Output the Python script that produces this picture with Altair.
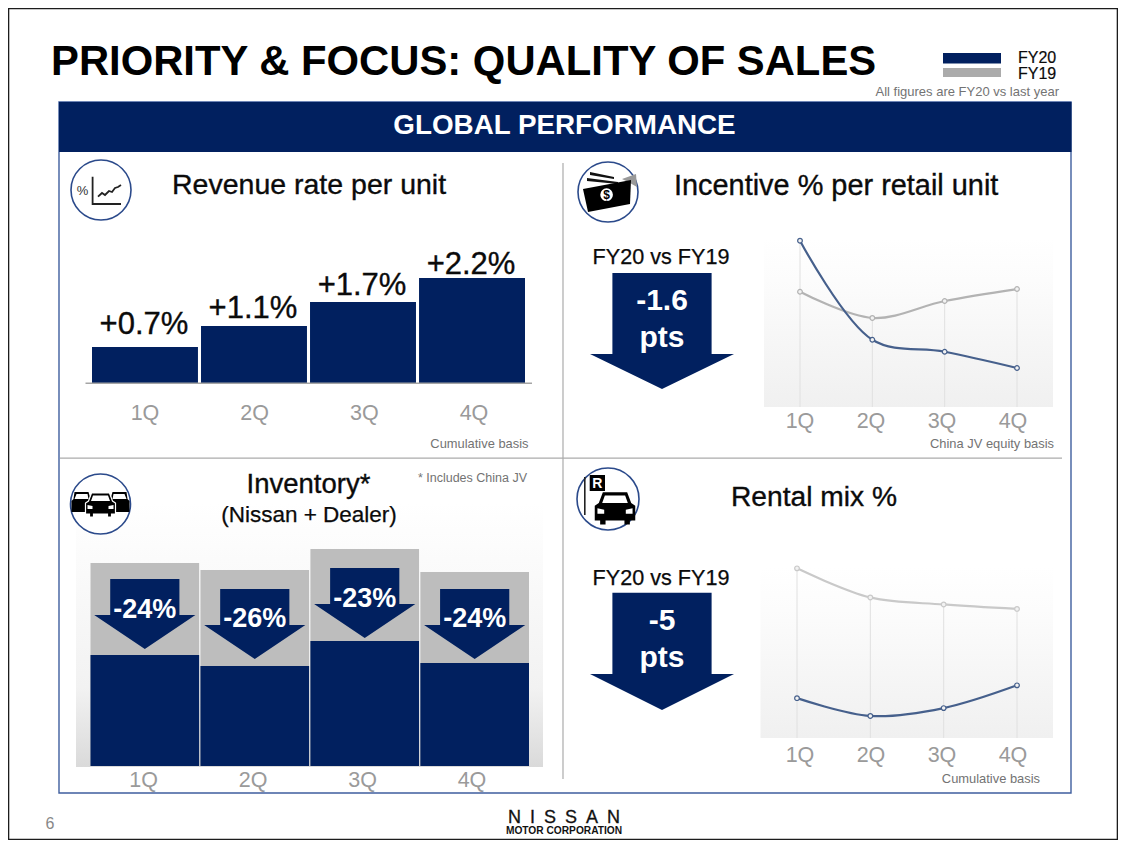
import altair as alt
import pandas as pd

QUARTERS = ["1Q", "2Q", "3Q", "4Q"]
NAVY = "#01205F"
GRAY = "#9A9A9A"
NOTE = "#737373"
INK = "#0B0B0B"
FONT = "Liberation Sans"

# Revenue rate per unit
rev_bars = [0.75, 1.19, 1.69, 2.19]
rev_label_pos = [1.02, 1.35, 1.83, 2.27]
rev_labels = ["+0.7%", "+1.1%", "+1.7%", "+2.2%"]

# Incentive % per retail unit (index)
inc_fy20 = [98.4, 39.8, 32.7, 23.1]
inc_fy19 = [68.2, 52.7, 62.7, 69.8]

# Rental mix % (index)
ren_fy20 = [23.3, 12.9, 17.5, 30.8]
ren_fy19 = [99.2, 82.2, 78.1, 75.5]

# Inventory (index)
inv_fy19 = [203, 196, 217, 194]
inv_fy20 = [111, 100, 125, 103]
inv_arrow_pos = [187, 177, 198, 177]
inv_label_pos = [148, 139, 159, 139]
inv_labels = ["-24%", "-26%", "-23%", "-24%"]


def px(v):
    return v - 8


layers = []


def text(s, x, y, size, color=INK, weight="normal", align="left", font=FONT, halo=0):
    kw = {"stroke": color, "strokeWidth": halo} if halo else {}
    layers.append(
        alt.Chart(pd.DataFrame({"t": [s]}))
        .mark_text(font=font, fontSize=size, color=color, fontWeight=weight, align=align, baseline="alphabetic", **kw)
        .encode(x=alt.value(px(x)), y=alt.value(px(y)), text="t:N")
    )


def box(x0, x1, y0, y1, fill=None, stroke=None, sw=1.0):
    kw = {}
    if fill is not None:
        kw["fill"] = fill
    else:
        kw["fillOpacity"] = 0
    if stroke is not None:
        kw["stroke"] = stroke
        kw["strokeWidth"] = sw
    layers.append(
        alt.Chart(pd.DataFrame({"a": [0]}))
        .mark_rect(**kw)
        .encode(x=alt.value(px(x0)), x2=alt.value(px(x1)), y=alt.value(px(y0)), y2=alt.value(px(y1)))
    )


def glyph(path, cx, cy, fill="#000000", stroke=None, sw=1.0, scale=1.0):
    kw = {"filled": fill is not None, "opacity": 1, "size": 4 * scale * scale, "shape": path}
    if fill is not None:
        kw["fill"] = fill
    if stroke is not None:
        kw["stroke"] = stroke
        kw["strokeWidth"] = sw
    else:
        kw["strokeWidth"] = 0
    layers.append(
        alt.Chart(pd.DataFrame({"a": [0]}))
        .mark_point(**kw)
        .encode(x=alt.value(px(cx)), y=alt.value(px(cy)))
    )


def circle(cx, cy, d):
    layers.append(
        alt.Chart(pd.DataFrame({"a": [0]}))
        .mark_point(shape="circle", size=d * d, filled=True, fill="#FFFFFF", stroke="#2B4A8B", strokeWidth=1.6, opacity=1)
        .encode(x=alt.value(px(cx)), y=alt.value(px(cy)))
    )


def grad(stops):
    return alt.Gradient(
        gradient="linear", x1=0, x2=0, y1=0, y2=1,
        stops=[alt.GradientStop(offset=o, color=c) for o, c in stops],
    )


def arrow_path(stem, head, neck, tip):
    return f"M{-stem} 0 L{stem} 0 L{stem} {neck} L{head} {neck} L0 {tip} L{-head} {neck} L{-stem} {neck} Z"


def band(a, b, inner):
    return alt.Scale(type="band", domain=QUARTERS, range=[px(a), px(b)], paddingInner=inner, paddingOuter=0)


def point(a, b):
    return alt.Scale(type="point", domain=QUARTERS, range=[px(a), px(b)], padding=0)


def linear(dom, bottom, top):
    return alt.Scale(type="linear", domain=dom, range=[px(bottom), px(top)], nice=False, zero=False)


def qlabels(a, b, y, size=21.5):
    layers.append(
        alt.Chart(pd.DataFrame({"q": QUARTERS}))
        .mark_text(font=FONT, fontSize=size, color=GRAY, align="center", baseline="alphabetic")
        .encode(x=alt.X("q:N", scale=point(a, b), axis=None), y=alt.value(px(y)), text="q:N")
    )


def line_panel(fy20, fy19, bg, gx0, gx1, ybottom, ytop, c19):
    box(bg[0], bg[1], bg[2], bg[3], fill=grad([(0, "#FFFFFF"), (0.25, "#FCFCFC"), (1, "#F0F0F0")]))
    sx = point(gx0, gx1)
    sy = linear([0, 100], ybottom, ytop)
    df = pd.DataFrame({"q": QUARTERS, "a": fy20, "b": fy19})
    df["m"] = df[["a", "b"]].max(axis=1)
    layers.append(
        alt.Chart(df).mark_rule(color="#E0E0E0", strokeWidth=1).encode(
            x=alt.X("q:N", scale=sx, axis=None),
            y=alt.Y("m:Q", scale=sy, axis=None),
            y2=alt.datum(0),
        )
    )
    for col, colr in (("b", c19), ("a", "#46608C")):
        layers.append(
            alt.Chart(df).mark_line(color=colr, strokeWidth=2.2, interpolate="catmull-rom").encode(
                x=alt.X("q:N", scale=sx, axis=None), y=alt.Y(f"{col}:Q", scale=sy, axis=None)
            )
        )
        layers.append(
            alt.Chart(df).mark_point(shape="circle", size=22, filled=True, fill="#F2F2F2", stroke=colr, strokeWidth=1.2, opacity=1).encode(
                x=alt.X("q:N", scale=sx, axis=None), y=alt.Y(f"{col}:Q", scale=sy, axis=None)
            )
        )


def big_arrow(top, neck, tip, t1, y1, y2):
    glyph(arrow_path(49.6, 72, neck - top, tip - top), 662, top, fill=NAVY)
    text(t1, 662, y1, 30, "#FFFFFF", "bold", "center")
    text("pts", 662, y2, 30, "#FFFFFF", "bold", "center")


# ---------- slide frame ----------
box(8.6, 1117.4, 8.6, 839.4, fill="#FFFFFF", stroke="#1C1C1C", sw=1.4)
text("PRIORITY & FOCUS: QUALITY OF SALES", 51, 74.5, 41.8, "#000000", "bold")
box(943, 1001, 53, 63.5, fill=NAVY)
box(943, 1001, 68, 77, fill="#ABABAB")
text("FY20", 1018, 63, 16, halo=0.2)
text("FY19", 1018, 79, 16, halo=0.2)
text("All figures are FY20 vs last year", 1059, 96, 13, NOTE, align="right")

# ---------- panel ----------
box(59, 1071, 102, 793, stroke="#3F5E9E", sw=1.4)
box(59, 1071.5, 102, 152, fill=NAVY)
text("GLOBAL PERFORMANCE", 564.5, 134, 27.8, "#FFFFFF", "bold", "center")
box(60, 1062, 457.5, 458.7, fill="#ABABAB")
box(562.4, 563.6, 163, 779, fill="#ABABAB")

# ---------- revenue ----------
circle(101, 190, 60)
text("%", 82.5, 195, 13, "#333333", "normal", "center")
glyph("M-8.4 -13.3 L-8.4 14 L20 14", 101, 190, fill=None, stroke="#222222", sw=1.8)
glyph("M-3 6.7 L1 3 L4 5 L8 1 L11 2 L14 -2 L17 -3 L20 -5", 101, 190, fill=None, stroke="#222222", sw=1.8)
text("Revenue rate per unit", 172, 193.5, 28.5, halo=0.35)
rsx = band(92, 525, 0.028)
rsy = linear([0, 2.19], 383, 278)
rdf = pd.DataFrame({"q": QUARTERS, "v": rev_bars, "p": rev_label_pos, "t": rev_labels})
layers.append(
    alt.Chart(rdf).mark_bar(color=NAVY).encode(
        x=alt.X("q:N", scale=rsx, axis=None), y=alt.Y("v:Q", scale=rsy, axis=None, stack=None)
    )
)
box(85.5, 532, 382.6, 384, fill="#A5A5A5")
layers.append(
    alt.Chart(rdf).mark_text(font=FONT, fontSize=31, color=INK, stroke=INK, strokeWidth=0.35, align="center", baseline="alphabetic", dx=-1).encode(
        x=alt.X("q:N", scale=rsx, axis=None), y=alt.Y("p:Q", scale=rsy, axis=None), text="t:N"
    )
)
qlabels(145, 474, 420)
text("Cumulative basis", 528.5, 448, 12.9, NOTE, align="right")

# ---------- incentive ----------
circle(608, 192, 60)
glyph("M-18 -20 L6 -15 L6 -13 L-18 -17 Z M-21 -14 L10 -10 L10 -8 L-21 -11 Z", 608, 192, fill="#111111")
glyph("M14 -13 L28 -18 L29 -5 L22 -9 Z", 608, 192, fill="#999999")
glyph("M-25 -3 L23 -12 L22 12 L-20 20 Z", 608, 192, fill="#000000")
layers.append(
    alt.Chart(pd.DataFrame({"a": [0]})).mark_point(shape="circle", size=160, filled=True, fill="#FFFFFF", opacity=1, strokeWidth=0)
    .encode(x=alt.value(px(606.6)), y=alt.value(px(194.7)))
)
text("$", 606.6, 199, 12, "#000000", "bold", "center")
text("Incentive % per retail unit", 674, 195, 28.9, halo=0.35)
text("FY20 vs FY19", 661, 264, 21.6, align="center", halo=0.25)
big_arrow(273, 354, 389, "-1.6", 310, 347)
line_panel(inc_fy20, inc_fy19, (764, 1053, 238, 407), 800, 1017, 407, 238, "#B3B3B3")
qlabels(800, 1013, 428)
text("China JV equity basis", 1054, 448, 12.9, NOTE, align="right")

# ---------- inventory ----------
box(76, 543, 503, 767, fill=grad([(0, "#FFFFFF"), (0.7, "#F2F2F2"), (1, "#DADADA")]))
circle(100.5, 504, 60)
glyph("M-26 -12 L-12 -12 L-10 -5 L-10 8 L-29 8 L-29 -3 L-27 -5 Z M12 -12 L26 -12 L27 -5 L29 -3 L29 8 L10 8 L10 -5 Z", 100.5, 504)
glyph("M-24 -10 L-13 -10 L-12 -5 L-26 -5 Z M13 -10 L24 -10 L26 -5 L12 -5 Z", 100.5, 504, fill="#FFFFFF")
CAR = "M-9 -11 L9 -11 L12 -3 L15 -1 L15 10 L11 10 L11 13 L7 13 L7 10 L-7 10 L-7 13 L-11 13 L-11 10 L-15 10 L-15 -1 L-12 -3 Z"
SCREEN = "M-7.5 -8.5 L7.5 -8.5 L9.5 -3 L-9.5 -3 Z M-13 1 L-8 2 L-8 5 L-13 5 Z M13 1 L8 2 L8 5 L13 5 Z"
glyph(CAR, 100.5, 504, fill="#000000", stroke="#FFFFFF", sw=1.2)
glyph(SCREEN, 100.5, 504, fill="#FFFFFF")
text("Inventory*", 308.5, 493, 27.5, align="center", halo=0.35)
text("(Nissan + Dealer)", 309, 521.5, 22.5, align="center", halo=0.25)
text("* Includes China JV", 527, 481.5, 12.5, NOTE, align="right")
isx = band(90.5, 529, 0.012)
isy = linear([0, 220], 766, 546)
idf = pd.DataFrame({"q": QUARTERS, "a": inv_fy19, "b": inv_fy20, "p": inv_arrow_pos, "l": inv_label_pos, "t": inv_labels})
layers.append(
    alt.Chart(idf).mark_bar(color="#BDBDBD").encode(
        x=alt.X("q:N", scale=isx, axis=None), y=alt.Y("a:Q", scale=isy, axis=None, stack=None)
    )
)
layers.append(
    alt.Chart(idf).mark_bar(color=NAVY).encode(
        x=alt.X("q:N", scale=isx, axis=None), y=alt.Y("b:Q", scale=isy, axis=None, stack=None)
    )
)
layers.append(
    alt.Chart(idf).mark_point(shape=arrow_path(34.6, 50.6, 36, 70), size=4, filled=True, fill=NAVY, opacity=1, strokeWidth=0).encode(
        x=alt.X("q:N", scale=isx, axis=None), y=alt.Y("p:Q", scale=isy, axis=None)
    )
)
layers.append(
    alt.Chart(idf).mark_text(font=FONT, fontSize=27, fontWeight="bold", color="#FFFFFF", align="center", baseline="alphabetic").encode(
        x=alt.X("q:N", scale=isx, axis=None), y=alt.Y("l:Q", scale=isy, axis=None), text="t:N"
    )
)
qlabels(143.6, 472, 786.5)

# ---------- rental ----------
circle(608, 499, 62)
box(584, 585.6, 477, 515, fill="#222222")
box(589.7, 605, 475, 491, fill="#000000")
text("R", 597.3, 488, 14, "#FFFFFF", "bold", "center")
glyph(CAR, 615, 507, scale=1.35)
glyph(SCREEN, 615, 507, fill="#FFFFFF", scale=1.35)
text("Rental mix %", 731, 506, 28.2, halo=0.35)
text("FY20 vs FY19", 661, 585, 21.6, align="center", halo=0.25)
big_arrow(592.7, 674, 710, "-5", 630, 667)
line_panel(ren_fy20, ren_fy19, (760.5, 1053, 567, 738), 797, 1017, 738, 567, "#C9C9C9")
qlabels(800, 1013, 762)
text("Cumulative basis", 1040, 783, 12.9, NOTE, align="right")

# ---------- footer ----------
text("6", 50, 829, 16, "#888888", align="center")
text("N\u2002I\u2002S\u2002S\u2002A\u2002N", 564, 822.5, 18, "#111111", align="center", halo=0.3)
text("MOTOR CORPORATION", 564, 834, 10.2, "#111111", "bold", "center")

chart = (
    alt.layer(*layers)
    .resolve_scale(x="independent", y="independent")
    .properties(width=1110, height=832, padding=0, autosize=alt.AutoSizeParams(type="none"))
    .configure_view(strokeWidth=0)
    .configure(background="#FFFFFF")
)
chart.save("out.html", embed_options={"renderer": "svg", "actions": False})
